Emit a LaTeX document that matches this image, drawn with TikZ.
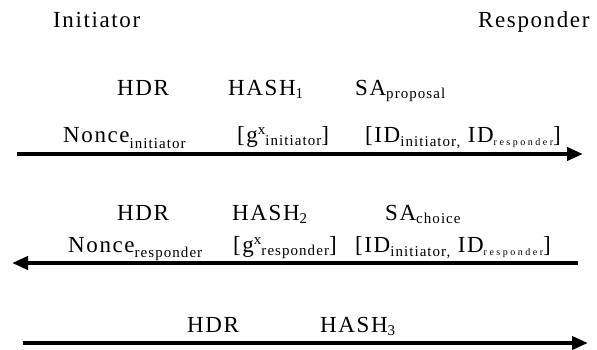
\documentclass[tikz,border=0pt]{standalone}
\usepackage{fontspec}
\setmainfont[LetterSpace=7]{Liberation Serif}
\newfontfamily\tinyfont[LetterSpace=25]{Liberation Serif}
\usetikzlibrary{arrows.meta}
\newcommand{\sbx}[3]{\raisebox{#2pt}{\fontsize{#1}{#1}\selectfont #3}}
\newcommand{\tsb}[1]{\raisebox{-3pt}{\tinyfont\fontsize{10}{10}\selectfont #1}}
\begin{document}
\begin{tikzpicture}[x=1pt,y=-1pt,
  lbl/.style={inner sep=0pt, anchor=base west, font=\fontsize{23}{27}\selectfont},
  msg/.style={line width=4pt, -{Triangle[length=16pt,width=13pt]}}]
\useasboundingbox (0,0) rectangle (597,349);
% parties
\node[lbl] (init) at (53,27) {Initiator};
\node[lbl] (resp) at (478,27) {Responder};
% message 1
\node[lbl] (h1) at (117,95) {HDR};
\node[lbl] (hash1) at (228,95) {HASH\sbx{15}{-3}{1}};
\node[lbl] (sap) at (355,95) {SA\sbx{15}{-3}{proposal}};
\node[lbl] (n1) at (63,142) {Nonce\sbx{15}{-6}{initiator}};
\node[lbl] (g1) at (237,142) {[g\sbx{15}{8}{x}\sbx{15}{-3}{initiator}]};
\node[lbl] (id1) at (365,142) {[ID\sbx{15}{-4}{initiator,}\ ID\tsb{responder}]};
\coordinate (a1s) at (17,154);
\coordinate (a1e) at (583,154);
\draw[msg] (a1s) -- (a1e);
% message 2
\node[lbl] (h2) at (117,220) {HDR};
\node[lbl] (hash2) at (232,220) {HASH\sbx{15}{-3}{2}};
\node[lbl] (sac) at (385,220) {SA\sbx{15}{-3}{choice}};
\node[lbl] (n2) at (68,252) {Nonce\sbx{15}{-5}{responder}};
\node[lbl] (g2) at (233,252) {[g\sbx{15}{8}{x}\sbx{15}{-3}{responder}]};
\node[lbl] (id2) at (355,252) {[ID\sbx{15}{-4}{initiator,}\ ID\tsb{responder}]};
\coordinate (a2s) at (578,263);
\coordinate (a2e) at (12,263);
\draw[msg] (a2s) -- (a2e);
% message 3
\node[lbl] (h3) at (187,332) {HDR};
\node[lbl] (hash3) at (320,332) {HASH\sbx{15}{-3}{3}};
\coordinate (a3s) at (23,343);
\coordinate (a3e) at (588,343);
\draw[msg] (a3s) -- (a3e);
\end{tikzpicture}
\end{document}
